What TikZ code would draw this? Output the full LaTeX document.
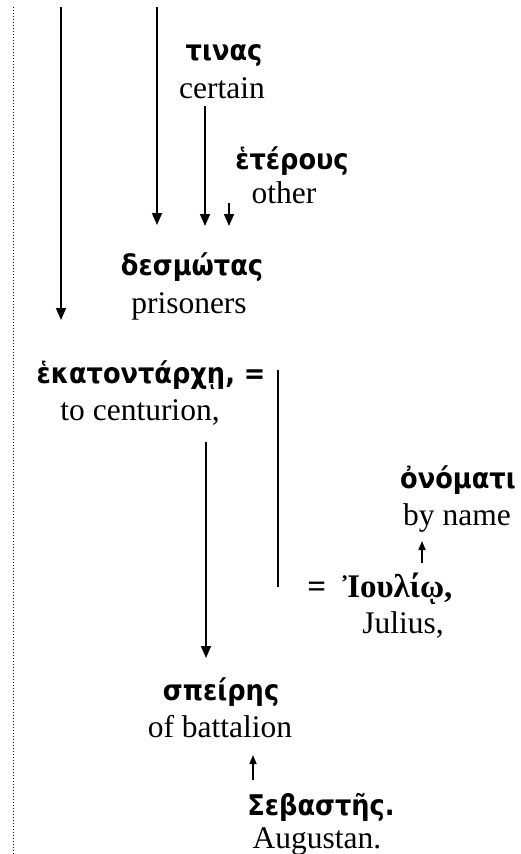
\documentclass[tikz,border=0pt]{standalone}
\usepackage{fontspec}
\setmainfont{Liberation Serif}
\newfontfamily\grk{DejaVu Sans Condensed}
\usetikzlibrary{arrows.meta}
\begin{document}
\begin{tikzpicture}[x=1pt,y=-1pt,
 gk/.style={font=\grk\bfseries\fontsize{28.5}{31}\selectfont, inner sep=0pt, anchor=base},
 gks/.style={font=\bfseries\fontsize{33}{35}\selectfont, inner sep=0pt, anchor=base},
 en/.style={font=\fontsize{31.5}{34}\selectfont, inner sep=0pt, anchor=base},
 link/.style={line width=1.6pt},
 down/.style={link,-{Triangle[length=12pt,width=10pt]}},
 up/.style={link,-{Triangle[length=9pt,width=7pt]}},
 guide/.style={line width=1pt, dotted}
]
\useasboundingbox (0,0) rectangle (521,854);
% texts
\node[gk] (tinas) at (224,60) {τινας};
\node[en] (certain) at (222,98) {certain};
\node[gk] (heterous) at (292,169) {ἑτέρους};
\node[en] (other) at (284,203) {other};
\node[gk] (desmotas) at (192,275) {δεσμώτας};
\node[en] (prisoners) at (189,313) {prisoners};
\node[gk] (hekat) at (151,383) {ἑκατοντάρχῃ, =};
\node[en] (centurion) at (140,420) {to centurion,};
\node[gk] (onomati) at (458,488) {ὀνόματι};
\node[en] (byname) at (457,525) {by name};
\node[gks] (ioulio) at (380,597) {=\ \ Ἰουλίῳ,};
\node[en] (julius) at (403,633) {Julius,};
\node[gk] (speires) at (221,700) {σπείρης};
\node[en] (battalion) at (220,737) {of battalion};
\node[gk] (sebastes) at (321,815) {Σεβαστῆς.};
\node[en] (augustan) at (317,848) {Augustan.};
% end points
\coordinate (g0) at (13,7);   \coordinate (g1) at (13,854);
\coordinate (s1) at (61,7);   \coordinate (e1) at (61,320);
\coordinate (s2) at (157,7);  \coordinate (e2) at (157,225);
\coordinate (s3) at (205,106);\coordinate (e3) at (205,226);
\coordinate (s4) at (229,203);\coordinate (e4) at (229,226);
\coordinate (s5) at (278,370);\coordinate (e5) at (278,587);
\coordinate (s6) at (206,442);\coordinate (e6) at (206,658);
\coordinate (s7) at (422,563);\coordinate (e7) at (422,541);
\coordinate (s8) at (253,780);\coordinate (e8) at (253,755);
% connectors
\draw[guide] (g0) -- (g1);
\draw[down] (s1) -- (e1);
\draw[down] (s2) -- (e2);
\draw[down] (s3) -- (e3);
\draw[down] (s4) -- (e4);
\draw[link] (s5) -- (e5);
\draw[down] (s6) -- (e6);
\draw[up] (s7) -- (e7);
\draw[up] (s8) -- (e8);
\end{tikzpicture}
\end{document}
